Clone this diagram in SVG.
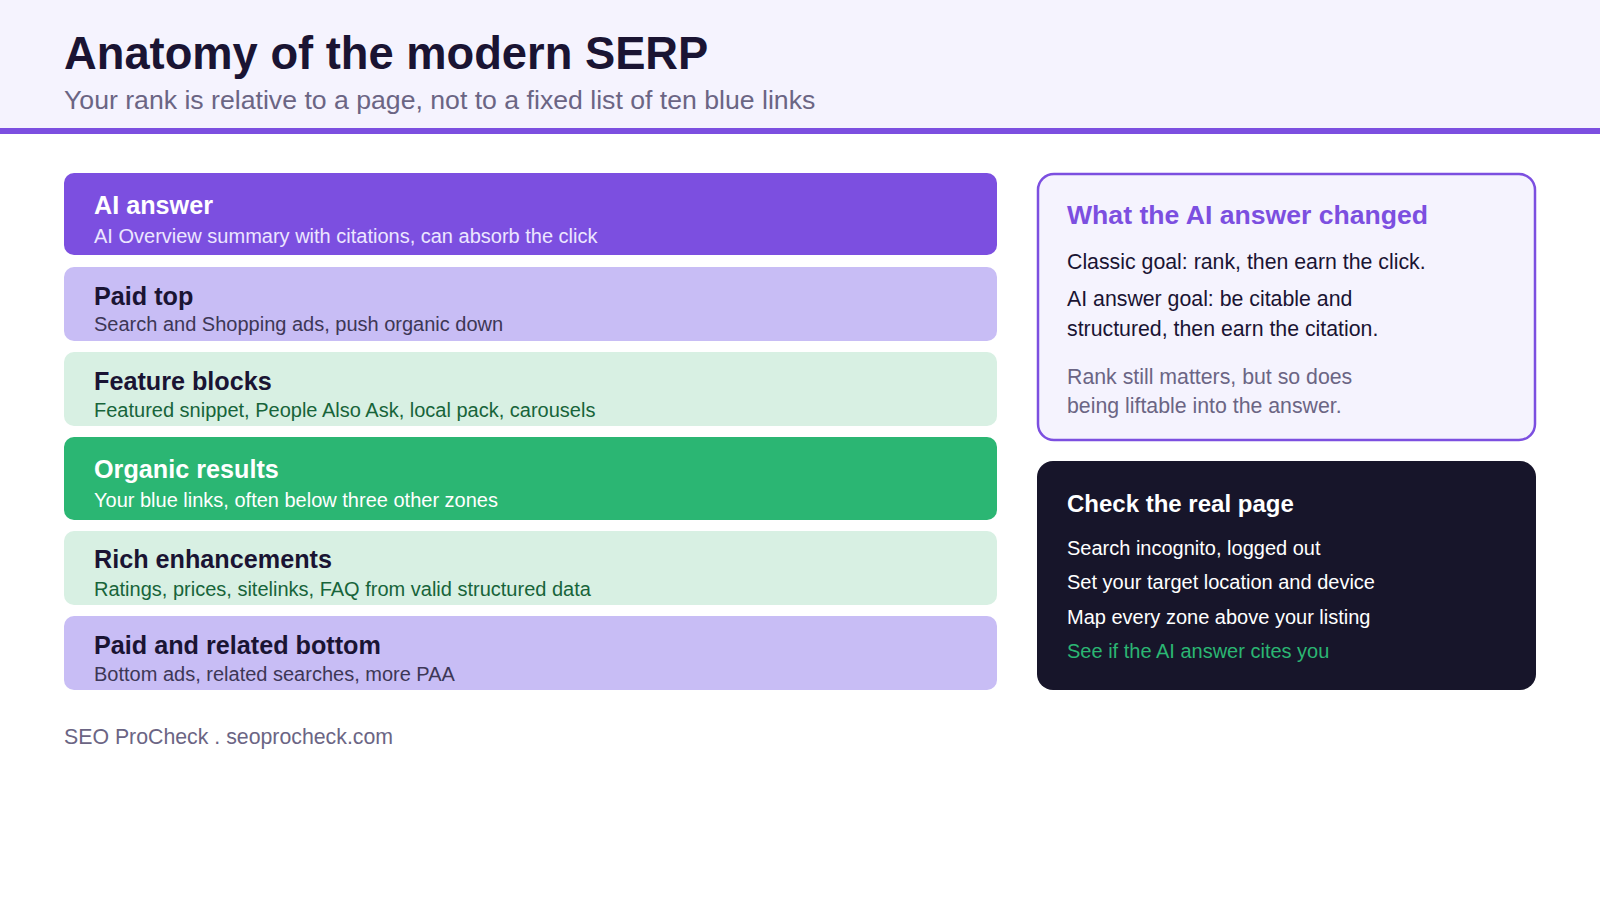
<svg xmlns="http://www.w3.org/2000/svg" width="1600" height="900" viewBox="0 0 1600 900">
  <style>
    text { font-family: "Liberation Sans", Arial, sans-serif; }
    .title { font-size: 45.3px; font-weight: 700; fill: #1a1433; }
    .sub { font-size: 26.65px; fill: #6b6584; }
    .ct { font-size: 25.2px; font-weight: 700; }
    .cs { font-size: 20px; }
    .dark { fill: #1a1433; }
    .white { fill: #ffffff; }
    .lav { fill: #ece6ff; }
    .grey { fill: #3d3756; }
    .green { fill: #17643a; }
    .ph { font-size: 26.6px; font-weight: 700; fill: #7c4fe0; }
    .pb { font-size: 21.3px; fill: #1a1433; }
    .pm { font-size: 21.3px; fill: #6b6584; }
    .dh { font-size: 24px; font-weight: 700; fill: #ffffff; }
    .dl { font-size: 20px; fill: #ffffff; }
    .foot { font-size: 21.3px; fill: #6b6584; }
  </style>
  <rect x="0" y="0" width="1600" height="900" fill="#ffffff"/>
  <g id="header">
    <rect x="0" y="0" width="1600" height="128" fill="#f5f3fe"/>
    <rect x="0" y="128" width="1600" height="6" fill="#7c4fe0"/>
    <text class="title" x="64" y="69">Anatomy of the modern SERP</text>
    <text class="sub" x="64" y="109">Your rank is relative to a page, not to a fixed list of ten blue links</text>
  </g>
  <g id="card-ai-answer">
    <rect x="64" y="173" width="933" height="82" rx="10" fill="#7c4fe0"/>
    <text class="ct white" x="94" y="214">AI answer</text>
    <text class="cs lav" x="94" y="243">AI Overview summary with citations, can absorb the click</text>
  </g>
  <g id="card-paid-top">
    <rect x="64" y="267" width="933" height="74" rx="10" fill="#c8bdf5"/>
    <text class="ct dark" x="94" y="305">Paid top</text>
    <text class="cs grey" x="94" y="331">Search and Shopping ads, push organic down</text>
  </g>
  <g id="card-feature-blocks">
    <rect x="64" y="352" width="933" height="74" rx="10" fill="#d8f0e3"/>
    <text class="ct dark" x="94" y="390">Feature blocks</text>
    <text class="cs green" x="94" y="417">Featured snippet, People Also Ask, local pack, carousels</text>
  </g>
  <g id="card-organic">
    <rect x="64" y="437" width="933" height="83" rx="10" fill="#2bb673"/>
    <text class="ct white" x="94" y="478">Organic results</text>
    <text class="cs white" x="94" y="507">Your blue links, often below three other zones</text>
  </g>
  <g id="card-rich">
    <rect x="64" y="531" width="933" height="74" rx="10" fill="#d8f0e3"/>
    <text class="ct dark" x="94" y="568">Rich enhancements</text>
    <text class="cs green" x="94" y="596">Ratings, prices, sitelinks, FAQ from valid structured data</text>
  </g>
  <g id="card-paid-bottom">
    <rect x="64" y="616" width="933" height="74" rx="10" fill="#c8bdf5"/>
    <text class="ct dark" x="94" y="654">Paid and related bottom</text>
    <text class="cs grey" x="94" y="681">Bottom ads, related searches, more PAA</text>
  </g>
  <g id="panel-ai-changed">
    <rect x="1038" y="174" width="497" height="266" rx="16" fill="#f5f3fe" stroke="#7c4fe0" stroke-width="2.5"/>
    <text class="ph" x="1067" y="224">What the AI answer changed</text>
    <text class="pb" x="1067" y="269">Classic goal: rank, then earn the click.</text>
    <text class="pb" x="1067" y="306">AI answer goal: be citable and</text>
    <text class="pb" x="1067" y="336">structured, then earn the citation.</text>
    <text class="pm" x="1067" y="384">Rank still matters, but so does</text>
    <text class="pm" x="1067" y="413">being liftable into the answer.</text>
  </g>
  <g id="panel-check">
    <rect x="1037" y="461" width="499" height="229" rx="16" fill="#17152a"/>
    <text class="dh" x="1067" y="512">Check the real page</text>
    <text class="dl" x="1067" y="555">Search incognito, logged out</text>
    <text class="dl" x="1067" y="589">Set your target location and device</text>
    <text class="dl" x="1067" y="624">Map every zone above your listing</text>
    <text class="dl" x="1067" y="658" style="fill:#2bb673">See if the AI answer cites you</text>
  </g>
  <g id="connectors"></g>
  <g id="footer">
    <text class="foot" x="64" y="744">SEO ProCheck . seoprocheck.com</text>
  </g>
</svg>
